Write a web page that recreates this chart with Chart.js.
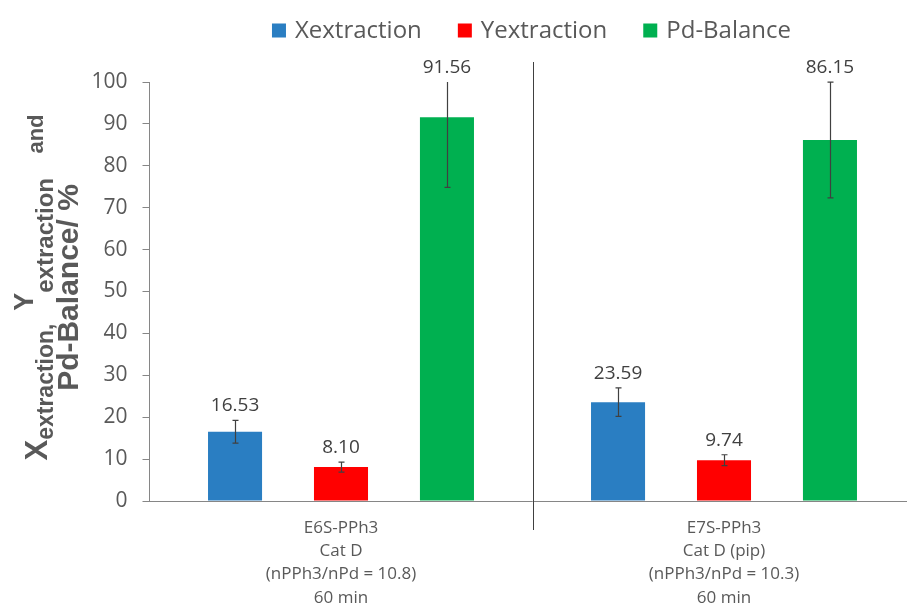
<!DOCTYPE html>
<html>
<head>
<meta charset="utf-8">
<script src="https://cdn.jsdelivr.net/npm/chart.js@4"></script>
<style>
    html, body { margin: 0; padding: 0; background: #fff; overflow: hidden; }
    #wrap { width: 920px; height: 604px; }
</style>
</head>
<body>
<div id="wrap"><canvas id="chart"></canvas></div>
<script>
/* ============================================
   Extraction / Pd balance bar chart
   ============================================ */

const categories = [
    ['E6S-PPh3', 'Cat D', '(nPPh3/nPd = 10.8)', '60 min'],
    ['E7S-PPh3', 'Cat D (pip)', '(nPPh3/nPd = 10.3)', '60 min']
];
const seriesNames = ['Xextraction', 'Yextraction', 'Pd-Balance'];
const xExtraction = [16.53, 23.59];
const yExtraction = [8.10, 9.74];
const pdBalance = [91.56, 86.15];
const xExtractionErr = [2.7, 3.4];
const yExtractionErr = [1.2, 1.3];
const pdBalanceErr = [16.7, 13.8];
const yTicks = [0, 10, 20, 30, 40, 50, 60, 70, 80, 90, 100];

const COLORS = ['#2a7ec2', '#ff0000', '#00b050'];
const TEXT = '#595959';
const FONT = '"Open Sans", sans-serif';
const TITLE_FONT = '"Liberation Sans", Arial, sans-serif';

// error bars + value labels above them
const errorBars = {
    id: 'errorBars',
    afterDatasetsDraw(chart) {
        const ctx = chart.ctx;
        const area = chart.chartArea;
        const y = chart.scales.y;
        ctx.save();
        chart.data.datasets.forEach((ds, di) => {
            chart.getDatasetMeta(di).data.forEach((bar, i) => {
                const v = ds.data[i], e = ds.errors[i];
                const hiRaw = y.getPixelForValue(v + e);
                const hi = Math.max(hiRaw, area.top);
                const lo = y.getPixelForValue(v - e);
                const x = Math.round(bar.x) + 0.5;
                ctx.strokeStyle = '#404040';
                ctx.lineWidth = 1.2;
                ctx.beginPath();
                ctx.moveTo(x, hi); ctx.lineTo(x, lo);
                ctx.moveTo(x - 3, lo); ctx.lineTo(x + 3, lo);
                if (hiRaw >= area.top) { ctx.moveTo(x - 3, hi); ctx.lineTo(x + 3, hi); }
                ctx.stroke();

                ctx.fillStyle = '#404040';
                ctx.font = '19px ' + FONT;
                ctx.textAlign = 'center';
                ctx.textBaseline = 'bottom';
                ctx.fillText(v.toFixed(2), bar.x, hi - 5);
            });
        });
        ctx.restore();
    }
};

// divider between the two groups
const divider = {
    id: 'divider',
    afterDraw(chart) {
        const xs = chart.scales.x;
        const x = Math.round((xs.getPixelForValue(0) + xs.getPixelForValue(1)) / 2) + 0.5;
        const ctx = chart.ctx;
        ctx.save();
        ctx.strokeStyle = '#404040';
        ctx.lineWidth = 1;
        ctx.beginPath();
        ctx.moveTo(x, chart.chartArea.top - 20);
        ctx.lineTo(x, chart.chartArea.bottom + 29);
        ctx.stroke();
        ctx.restore();
    }
};

// legend centred over the plot
const topLegend = {
    id: 'topLegend',
    afterDraw(chart) {
        const ctx = chart.ctx;
        const area = chart.chartArea;
        ctx.save();
        ctx.font = '24px ' + FONT;
        const gap = 36, box = 14, boxGap = 9;
        const widths = chart.data.datasets.map(ds => box + boxGap + ctx.measureText(ds.label).width);
        const total = widths.reduce((a, b) => a + b, 0) + gap * (widths.length - 1);
        let x = (area.left + area.right) / 2 - total / 2 - 1;
        const cy = 30.5;
        chart.data.datasets.forEach((ds, i) => {
            ctx.fillStyle = ds.backgroundColor;
            ctx.fillRect(x, cy - 7, box, box);
            ctx.fillStyle = TEXT;
            ctx.textBaseline = 'middle';
            ctx.fillText(ds.label, x + box + boxGap, cy + 1);
            x += widths[i] + gap;
        });
        ctx.restore();
    }
};

// y axis title with subscripts
const yTitle = {
    id: 'yTitle',
    afterDraw(chart) {
        const ctx = chart.ctx;
        const area = chart.chartArea;
        const bold = s => 'bold ' + s + 'px ' + TITLE_FONT;
        const line1 = [
            { t: 'X', f: bold(31), b: 47 },
            { t: 'extraction,  ', f: bold(23), b: 53 },
            { t: 'Y', f: bold(27), b: 33 },
            { t: 'extraction', f: bold(24), b: 53 },
            { t: '    and', f: bold(22), b: 43 }
        ];
        const line2 = [{ t: 'Pd-Balance/ %', f: bold(30), b: 78 }];
        const cy = (area.top + area.bottom) / 2 - 4;
        ctx.save();
        ctx.translate(0, cy);
        ctx.rotate(-Math.PI / 2);
        ctx.fillStyle = TEXT;
        ctx.textBaseline = 'alphabetic';
        ctx.textAlign = 'left';
        [line1, line2].forEach(line => {
            const w = line.map(s => { ctx.font = s.f; return ctx.measureText(s.t).width; });
            let x = -w.reduce((a, b) => a + b, 0) / 2;
            line.forEach((s, i) => {
                ctx.font = s.f;
                ctx.fillText(s.t, x, s.b);
                x += w[i];
            });
        });
        ctx.restore();
    }
};

const seriesValues = [xExtraction, yExtraction, pdBalance];
const seriesErrors = [xExtractionErr, yExtractionErr, pdBalanceErr];

new Chart(document.getElementById('chart'), {
    type: 'bar',
    data: {
        labels: categories,
        datasets: seriesNames.map((name, i) => ({
            label: name,
            data: seriesValues[i],
            errors: seriesErrors[i],
            backgroundColor: COLORS[i],
            categoryPercentage: 0.83,
            barPercentage: 0.51
        }))
    },
    options: {
        responsive: true,
        maintainAspectRatio: false,
        animation: false,
        layout: { padding: { top: 82, right: 4.5, left: 0, bottom: 0 } },
        plugins: {
            legend: { display: false },
            tooltip: { enabled: false }
        },
        scales: {
            x: {
                grid: { display: false, drawTicks: false },
                border: { color: '#868686', width: 1 },
                ticks: {
                    color: TEXT,
                    font: { family: FONT, size: 17, lineHeight: 1.38 },
                    padding: 15,
                    maxRotation: 0,
                    autoSkip: false
                },
                afterFit: s => { s.height = 103; }
            },
            y: {
                min: 0,
                max: 100,
                afterBuildTicks: s => { s.ticks = yTicks.map(v => ({ value: v })); },
                grid: { drawOnChartArea: false, drawTicks: true, tickLength: 7, color: '#868686' },
                border: { color: '#868686', width: 1 },
                ticks: {
                    color: TEXT,
                    font: { family: FONT, size: 21 },
                    padding: 15
                },
                afterFit: s => { s.width = 149.5; }
            }
        }
    },
    plugins: [errorBars, divider, topLegend, yTitle]
});
</script>
</body>
</html>
